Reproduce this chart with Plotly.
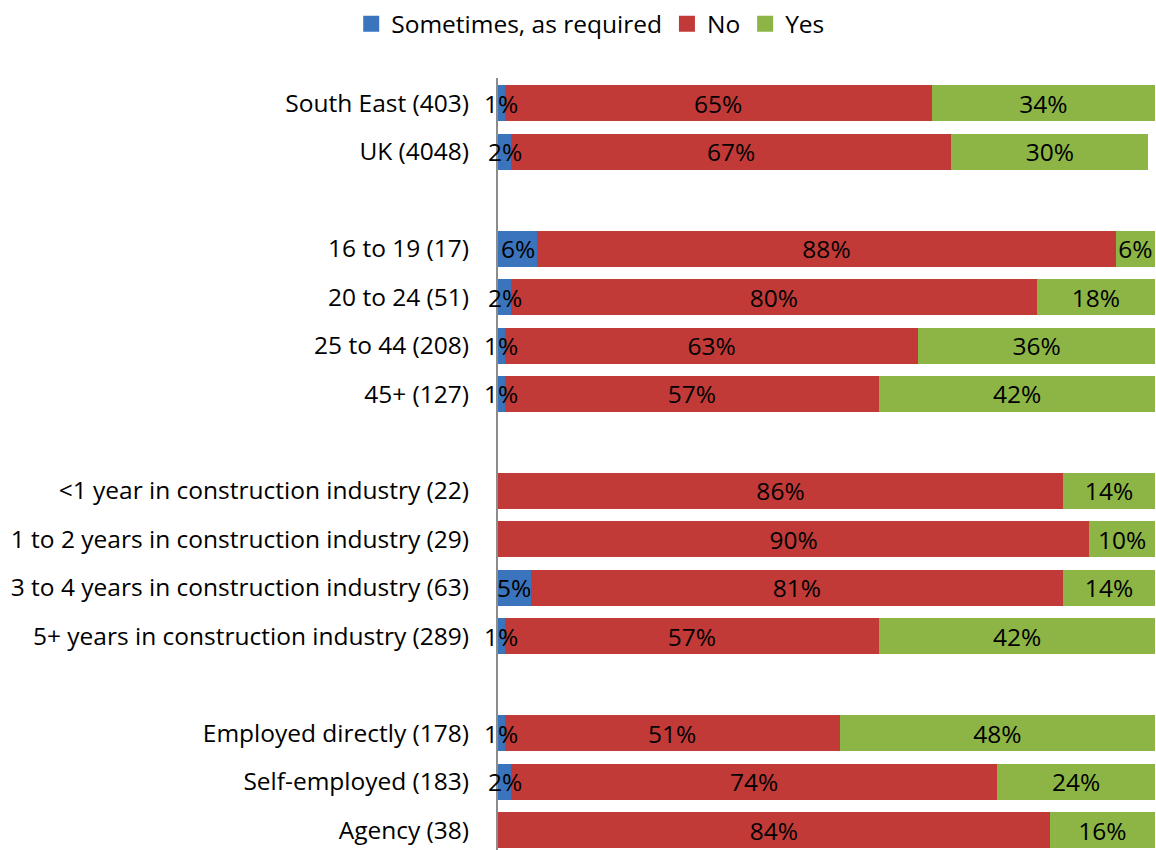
import plotly.graph_objects as go

# Rows top to bottom; empty strings are spacer rows between groups.
categories = [
    "South East (403)", "UK (4048)", "",
    "16 to 19 (17)", "20 to 24 (51)", "25 to 44 (208)", "45+ (127)", "",
    "<1 year in construction industry (22)", "1 to 2 years in construction industry (29)",
    "3 to 4 years in construction industry (63)", "5+ years in construction industry (289)", "",
    "Employed directly (178)", "Self-employed (183)", "Agency (38)",
]
sometimes = [1, 2, None, 6, 2, 1, 1, None, 0, 0, 5, 1, None, 1, 2, 0]
no = [65, 67, None, 88, 80, 63, 57, None, 86, 90, 81, 57, None, 51, 74, 84]
yes = [34, 30, None, 6, 18, 36, 42, None, 14, 10, 14, 42, None, 48, 24, 16]

series = [
    ("Sometimes, as required", sometimes, "#3a74bd"),
    ("No", no, "#c23a38"),
    ("Yes", yes, "#8cb545"),
]

FONT = "'Open Sans', sans-serif"
SIZE = 24.5

n = len(categories)
ypos = [n - 1 - i for i in range(n)]


def pct(vals):
    return [f"{v}%" if v else "" for v in vals]


fig = go.Figure()
for i, (name, vals, color) in enumerate(series):
    xs = [v / 100 if v else None for v in vals]
    fig.add_bar(
        y=ypos, x=xs, name=name, orientation="h", showlegend=False,
        marker=dict(color=color, line=dict(width=0)),
        # the thin blue segments get their labels as annotations on top
        text=pct(vals) if i > 0 else None,
        textposition="inside" if i > 0 else "none", insidetextanchor="middle",
        constraintext="none", textangle=0,
        textfont=dict(family=FONT, size=SIZE, color="black"),
        hoverinfo="skip",
    )

# blue labels sit centred on their (very narrow) segment and spill over it
for y, v in zip(ypos, sometimes):
    if v:
        fig.add_annotation(x=v / 200, y=y, text=f"{v}%", showarrow=False,
                           font=dict(family=FONT, size=SIZE, color="black"))

# legend-only entries, so the swatches can be as big as Excel's
for name, vals, color in series:
    fig.add_scatter(x=[None], y=[None], mode="markers", name=name,
                    marker=dict(symbol="square", size=17, color=color))

fig.update_layout(
    width=1156, height=850,
    barmode="stack", bargap=0.257,
    paper_bgcolor="white", plot_bgcolor="white",
    margin=dict(l=498, r=1, t=78, b=0),
    font=dict(family=FONT, size=SIZE, color="black"),
    showlegend=True,
    legend=dict(orientation="h", x=0.511, xanchor="center", y=0.972, yanchor="middle",
                xref="container", yref="container", font=dict(size=SIZE),
                traceorder="normal", itemwidth=30),
)
fig.update_xaxes(range=[0, 1], visible=False, fixedrange=True)
fig.update_yaxes(
    range=[-0.41, 15.52], tickvals=ypos, ticktext=categories,
    showline=True, linecolor="#8c8c8c", linewidth=2, ticks="", showgrid=False,
    zeroline=False, ticklabelstandoff=22, automargin=False, fixedrange=True,
)

fig.write_html("out.html", config={"displayModeBar": False},
               post_script="document.body.style.margin='0';")
